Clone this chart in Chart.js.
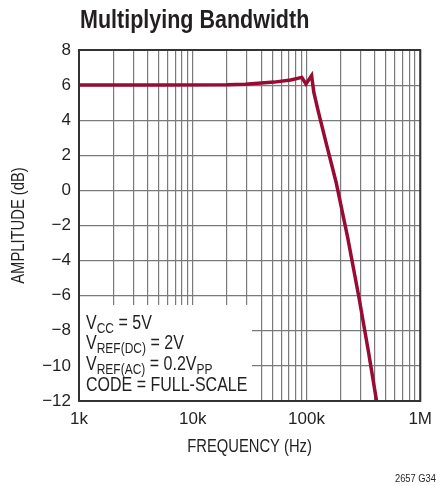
<!DOCTYPE html>
<html>
<head>
<meta charset="utf-8">
<script src="https://cdn.jsdelivr.net/npm/chart.js@4/dist/chart.umd.min.js"></script>
<style>
  html, body { margin: 0; padding: 0; background: #fff; }
  #wrap { width: 440px; height: 486px; position: relative; }
</style>
</head>
<body>
<div id="wrap"><canvas id="bw"></canvas></div>
<script>
// ------------------------- DATA -------------------------
const freqHz = [1000, 5000, 20000, 29000, 52000, 72600, 91000, 99000, 111000, 116000, 127000, 150000, 182000, 230000, 290000, 350000, 412000, 430000];
const amplitudeDb = [6.0, 6.0, 6.02, 6.05, 6.17, 6.29, 6.44, 6.06, 6.54, 5.6, 4.5, 2.62, 0.48, -2.66, -6.13, -9.15, -11.94, -12.8];

const majorFreqs = [1000, 10000, 100000, 1000000];
const xTickLabels = ["1k", "10k", "100k", "1M"];
const yTicks = [8, 6, 4, 2, 0, -2, -4, -6, -8, -10, -12];

const FONT = "'Liberation Sans', Arial, sans-serif";
const INK = "#231f20";

// all grid frequencies 1k..1M (1..9 per decade)
const gridFreqs = [];
majorFreqs.forEach((d, i) => {
    if (i === majorFreqs.length - 1) { gridFreqs.push(d); return; }
    for (let m = 1; m <= 9; m++) gridFreqs.push(d * m);
});

// narrow text: Arial squeezed horizontally (no narrow face installed)
function narrowText(ctx, txt, x, y, font, sx, align) {
    ctx.save();
    ctx.font = font;
    ctx.textAlign = align || "left";
    ctx.translate(x, y);
    ctx.scale(sx, 1);
    ctx.fillText(txt, 0, 0);
    const w = ctx.measureText(txt).width * sx;
    ctx.restore();
    return w;
}

// ------------------------- EXTRAS (title, note box, frame) -------------------------
const extras = {
    id: "extras",
    beforeDatasetsDraw(chart) {
        const { ctx, chartArea: a } = chart;
        // white box behind the conditions text
        ctx.save();
        ctx.fillStyle = "#fff";
        ctx.fillRect(a.left, 305, 252 - a.left, a.bottom - 305);
        ctx.restore();
    },
    afterDraw(chart) {
        const { ctx, chartArea: a } = chart;
        ctx.save();
        // frame
        ctx.strokeStyle = "#333";
        ctx.lineWidth = 2;
        ctx.strokeRect(a.left, a.top, a.right - a.left, a.bottom - a.top);

        ctx.fillStyle = INK;
        ctx.textBaseline = "alphabetic";

        // title
        narrowText(ctx, "Multiplying Bandwidth", 80, 28, "bold 25px " + FONT, 0.86);

        // axis titles
        narrowText(ctx, "FREQUENCY (Hz)", (a.left + a.right) / 2, 452, "18px " + FONT, 0.82, "center");
        ctx.save();
        ctx.translate(24, (a.top + a.bottom) / 2);
        ctx.rotate(-Math.PI / 2);
        narrowText(ctx, "AMPLITUDE (dB)", 0, 0, "18px " + FONT, 0.82, "center");
        ctx.restore();

        // conditions
        const lines = [
            [["V", 0], ["CC", 1], [" = 5V", 0]],
            [["V", 0], ["REF(DC)", 1], [" = 2V", 0]],
            [["V", 0], ["REF(AC)", 1], [" = 0.2V", 0], ["PP", 1]],
            [["CODE = FULL-SCALE", 0]]
        ];
        const baselines = [329, 349, 370, 391];
        lines.forEach((parts, i) => {
            let x = 86;
            parts.forEach(([txt, sub]) => {
                const f = (sub ? "15px " : "20px ") + FONT;
                x += narrowText(ctx, txt, x, baselines[i] + (sub ? 4 : 0), f, 0.8);
            });
        });

        // footer
        narrowText(ctx, "2657 G34", 436, 482, "11px " + FONT, 0.85, "right");
        ctx.restore();
    }
};

// ------------------------- CHART -------------------------
new Chart(document.getElementById("bw"), {
    type: "line",
    data: {
        datasets: [{
            data: freqHz.map((f, i) => ({ x: f, y: amplitudeDb[i] })),
            borderColor: "#980b33",
            borderWidth: 3.5,
            pointRadius: 0,
            tension: 0,
            fill: false,
            clip: 0
        }]
    },
    options: {
        responsive: true,
        maintainAspectRatio: false,
        animation: false,
        layout: { padding: { top: 50, right: 10, left: 0, bottom: 0 } },
        plugins: { legend: { display: false }, tooltip: { enabled: false } },
        scales: {
            x: {
                type: "logarithmic",
                min: 1000,
                max: 1000000,
                afterBuildTicks: s => { s.ticks = gridFreqs.map(v => ({ value: v })); },
                afterFit: s => { s.height = 85; },
                ticks: {
                    autoSkip: false,
                    maxRotation: 0,
                    padding: 8,
                    color: INK,
                    font: { family: FONT, size: 17 },
                    callback: v => {
                        const k = majorFreqs.indexOf(v);
                        return k >= 0 ? xTickLabels[k] : "";
                    }
                },
                grid: { color: "#7a7a7a", lineWidth: 1.2, drawTicks: false },
                border: { display: false }
            },
            y: {
                min: -12,
                max: 8,
                afterBuildTicks: s => { s.ticks = yTicks.map(v => ({ value: v })); },
                afterFit: s => { s.width = 79; },
                ticks: {
                    padding: 8,
                    color: INK,
                    font: { family: FONT, size: 17 },
                    callback: v => (v < 0 ? "\u2212" + Math.abs(v) : String(v))
                },
                grid: { color: "#7a7a7a", lineWidth: 1.2, drawTicks: false },
                border: { display: false }
            }
        }
    },
    plugins: [extras]
});
</script>
</body>
</html>
